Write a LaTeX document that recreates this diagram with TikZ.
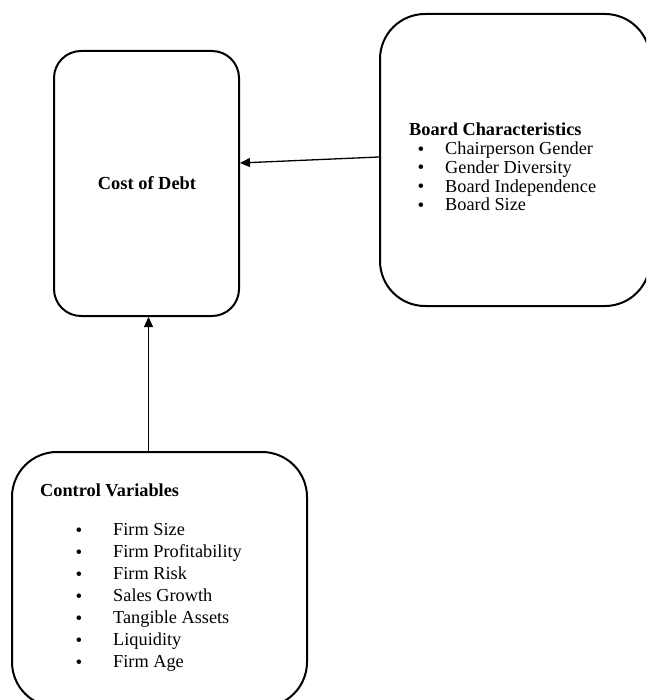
\documentclass[tikz,border=0pt]{standalone}
\usepackage{fontspec}
\setmainfont{Liberation Serif}
\usetikzlibrary{arrows.meta}
\begin{document}
\begin{tikzpicture}[x=1pt,y=-1pt,
  box/.style={draw=black,line width=2pt,rounded corners=#1,inner sep=0pt},
  arr/.style={draw=black,line width=1.3pt,-{Triangle[length=10pt,width=9pt]}},
  head/.style={anchor=base west,inner sep=0pt,font=\fontsize{18.3}{21}\selectfont\bfseries},
  item/.style={anchor=base west,inner sep=0pt,font=\fontsize{18.3}{21}\selectfont},
  bul/.style={anchor=base,inner sep=0pt,font=\fontsize{19}{21}\selectfont}]
\path[use as bounding box] (0,0) rectangle (646,700);
\clip (0,0) rectangle (646,700);
% boxes
\node[box=27pt,minimum width=185pt,minimum height=265pt] (cost) at (146.5,183.5) {};
\node[box=45pt,minimum width=270pt,minimum height=292pt] (board) at (515,160) {};
\node[box=45pt,minimum width=295pt,minimum height=255pt] (ctrl) at (159.5,579.5) {};
% texts
\node[anchor=base,inner sep=0pt,font=\fontsize{18.4}{21}\selectfont\bfseries] (costt) at (147,190) {Cost of Debt};
\node[head] (bh) at (409,136) {Board Characteristics};
\foreach \t [count=\i] in {Chairperson Gender,Gender Diversity,Board Independence,Board Size}{
  \node[bul] (bb\i) at (421,{136.5+\i*18.7}) {•};
  \node[item] (bi\i) at (445,{136+\i*18.7}) {\t};
}
\node[head] (ch) at (40,496) {Control Variables};
\foreach \t [count=\i] in {Firm Size,Firm Profitability,Firm Risk,Sales Growth,Tangible Assets,Liquidity,Firm Age}{
  \node[bul] (cb\i) at (79,{514+\i*22}) {•};
  \node[item] (ci\i) at (113,{513.5+\i*22}) {\t};
}
% connectors
\draw[arr] ([yshift=3pt]board.west) -- ([yshift=20.5pt]cost.east);
\draw[arr] ([xshift=2pt]cost.south |- ctrl.north) -- ([xshift=2pt]cost.south);
\end{tikzpicture}
\end{document}
